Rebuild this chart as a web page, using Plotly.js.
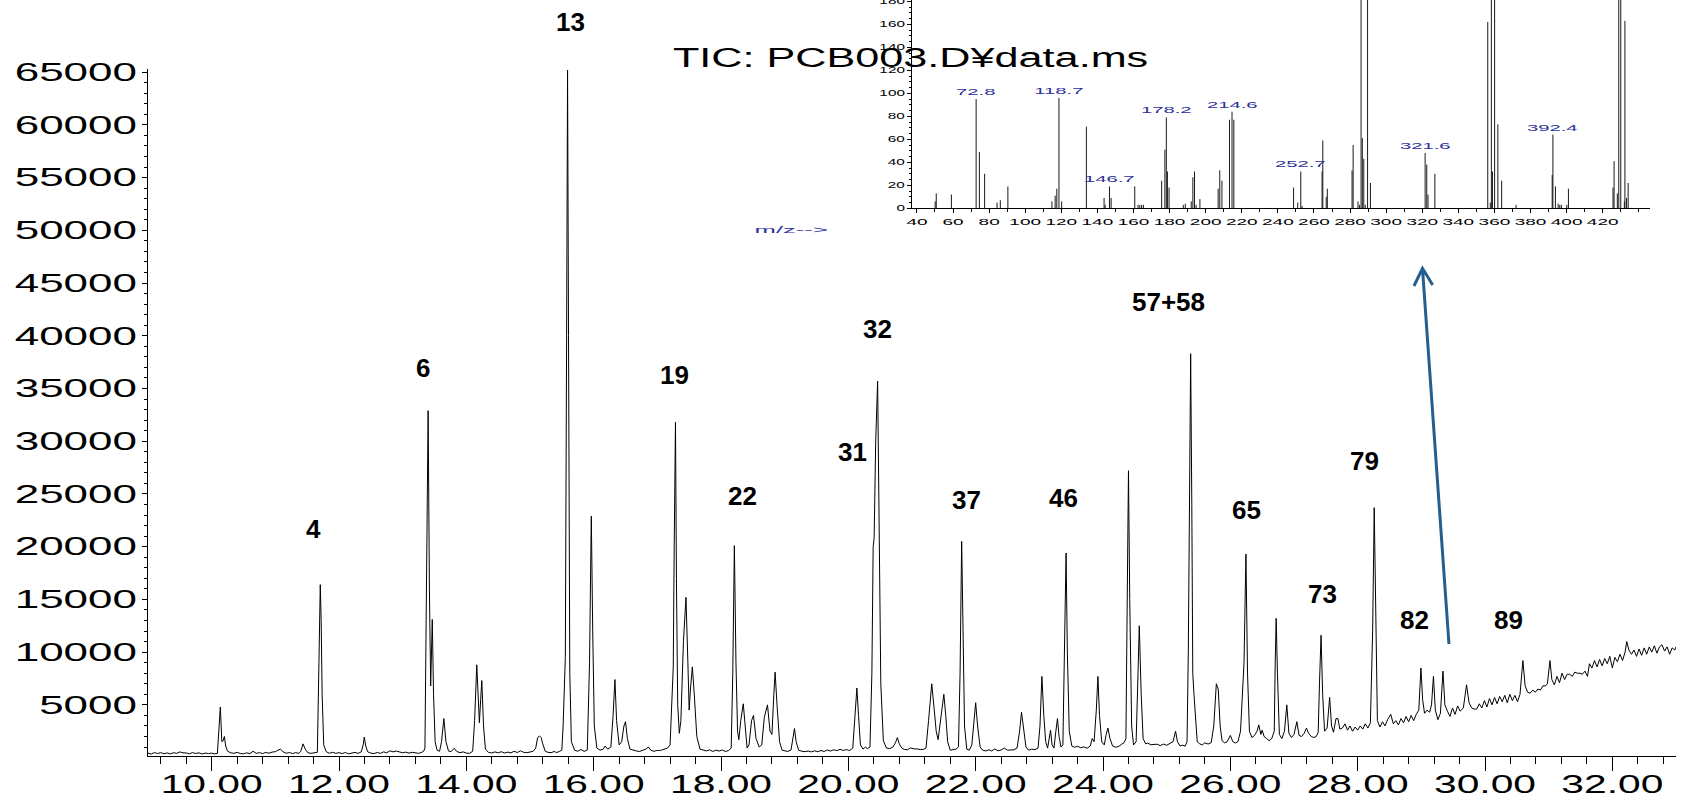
<!DOCTYPE html>
<html><head><meta charset="utf-8">
<script src="https://cdn.plot.ly/plotly-3.0.1.min.js"></script>
<style>html,body{margin:0;padding:0;background:#fff;}#chart{width:1684px;height:802px;}</style>
</head><body><div id="chart"></div>
<script>
// ---- Total ion chromatogram (retention time, min / abundance) ----
const ticTime = [
9.00,9.05,9.10,9.15,9.20,9.25,9.30,9.35,9.40,9.45,9.50,9.55,9.60,9.65,9.70,9.75,9.80,9.85,9.90,9.95,10.00,10.05,
10.09,10.11,10.136,10.16,10.18,10.20,10.22,10.25,10.30,10.35,10.40,10.45,10.50,10.55,10.60,10.65,10.70,10.75,10.80,10.85,10.90,10.95,
11.00,11.04,11.08,11.12,11.17,11.22,11.27,11.32,11.37,11.40,11.435,11.47,11.51,11.56,11.62,11.66,
11.685,11.706,11.72,11.735,11.76,11.80,11.85,11.90,11.95,12.00,12.05,12.10,12.15,12.20,12.25,12.30,12.35,
12.38,12.397,12.42,12.45,12.50,12.55,12.60,12.65,12.70,12.75,12.80,12.85,12.90,12.95,13.00,13.05,13.10,13.15,13.20,13.25,13.30,13.33,
13.35,13.375,13.40,13.42,13.44,13.465,13.485,13.51,13.54,13.58,13.61,13.647,13.68,13.72,13.76,13.81,13.85,13.90,13.95,14.00,14.05,14.10,
14.13,14.164,14.19,14.205,14.225,14.243,14.27,14.30,14.35,14.40,14.45,14.50,14.55,14.60,14.65,14.70,14.75,14.80,14.85,14.90,14.95,15.00,15.05,
15.09,15.12,15.15,15.175,15.20,15.24,15.28,15.33,15.38,15.42,15.46,15.50,15.52,15.54,15.555,15.575,15.59,15.605,15.625,15.65,15.70,15.75,15.80,15.85,15.90,
15.935,15.963,15.985,16.01,16.05,16.10,16.15,16.18,16.22,16.27,16.305,16.334,16.36,16.40,16.44,16.475,16.50,16.53,16.57,16.62,16.67,16.72,16.77,16.82,16.86,16.90,16.95,17.00,17.05,17.10,17.16,17.20,
17.225,17.25,17.265,17.285,17.30,17.32,17.345,17.37,17.41,17.45,17.48,17.50,17.52,17.55,17.58,17.62,17.67,17.72,17.77,17.82,17.87,17.92,17.97,18.02,18.07,18.12,18.16,
18.185,18.21,18.235,18.26,18.28,18.31,18.35,18.38,18.41,18.44,18.48,18.51,18.55,18.60,18.64,18.68,18.73,18.77,18.80,18.83,18.85,18.88,18.92,18.96,19.00,19.05,19.10,19.13,19.154,19.18,19.22,19.27,19.32,19.37,19.42,19.47,19.52,19.57,19.62,19.67,19.72,19.77,19.82,19.87,19.92,19.97,20.02,20.07,
20.10,20.134,20.16,20.19,20.23,20.27,20.30,20.34,20.37,20.39,20.405,20.43,20.46,20.48,20.51,20.55,20.60,20.65,20.70,20.74,20.77,20.80,20.84,20.88,20.93,20.98,21.03,21.08,21.13,21.18,21.22,
21.26,21.31,21.35,21.38,21.41,21.44,21.50,21.53,21.56,21.60,21.64,21.69,21.73,21.755,21.78,21.80,21.825,21.86,21.90,21.94,21.97,22.00,22.03,22.07,22.11,22.16,22.21,22.25,22.30,22.35,22.40,22.45,22.50,22.55,22.60,22.65,
22.69,22.72,22.75,22.79,22.83,22.88,22.93,22.98,23.01,23.04,23.07,23.10,23.13,23.16,23.176,23.20,23.23,23.26,23.285,23.31,23.34,23.37,23.395,23.42,23.44,23.47,23.51,23.55,23.60,23.65,23.70,23.75,23.80,23.83,23.86,23.895,23.92,23.945,23.98,24.02,24.05,24.077,24.11,24.15,24.20,24.25,24.30,24.33,24.36,
24.38,24.40,24.42,24.45,24.48,24.52,24.55,24.57,24.60,24.63,24.67,24.70,24.75,24.80,24.85,24.90,24.95,25.00,25.05,25.10,25.14,25.17,25.21,25.25,25.29,25.32,
25.34,25.355,25.377,25.395,25.41,25.43,25.46,25.48,25.52,25.56,25.60,25.65,25.70,25.74,25.78,25.81,25.84,25.87,25.91,25.95,26.00,26.04,26.08,26.12,26.16,
26.19,26.215,26.245,26.27,26.30,26.34,26.38,26.42,26.447,26.48,26.50,26.53,26.57,26.61,26.65,26.69,26.705,26.72,26.74,26.77,26.81,26.85,26.887,26.92,26.96,27.00,27.045,27.08,27.12,27.16,27.196,27.23,27.27,27.31,27.35,27.38,27.40,27.425,27.45,27.48,27.52,27.56,27.59,27.62,27.66,27.69,27.72,27.76,27.80,27.84,27.88,27.92,27.96,28.00,28.04,28.08,28.12,28.16,28.20,
28.235,28.26,28.285,28.31,28.35,28.39,28.43,28.47,28.52,28.56,28.60,28.64,28.68,28.72,28.76,28.80,28.84,28.88,28.92,28.96,
28.994,29.02,29.05,29.09,29.13,29.16,29.19,29.22,29.26,29.30,29.34,29.37,29.41,29.45,29.49,29.53,29.57,29.61,29.66,29.71,
29.75,29.79,29.83,29.87,29.91,29.95,29.99,30.03,30.07,30.11,30.15,30.19,30.23,30.27,30.31,30.35,30.39,30.43,30.47,30.51,
30.55,30.595,30.63,30.67,30.71,30.75,30.79,30.83,30.87,30.91,30.95,30.98,31.02,31.05,31.09,31.13,31.17,31.21,31.25,31.29,
31.33,31.37,31.41,31.45,31.49,31.53,31.57,31.61,31.64,31.68,31.72,31.76,31.80,31.84,31.88,31.92,31.96,32.00,32.04,32.08,
32.12,32.16,32.20,32.226,32.26,32.30,32.34,32.38,32.42,32.46,32.50,32.54,32.58,32.62,32.66,32.70,32.74,32.78,32.82,32.86,
32.90,32.94,32.98,33.00
];
const ticAbund = [
420,330,480,380,470,360,440,350,460,400,540,450,440,360,470,390,450,340,430,380,420,350,
400,2600,4800,1500,1600,2000,1100,600,450,400,500,380,360,450,370,600,400,470,380,490,410,520,
560,700,800,560,410,480,380,470,400,600,1300,800,460,400,460,500,
9000,16400,13000,6000,1200,550,410,500,400,470,380,480,360,450,490,400,540,
1200,1950,1100,550,420,380,480,400,540,460,640,540,620,500,450,520,420,500,430,400,500,600,
900,15000,32900,16000,6800,13100,6000,1500,700,600,1500,3700,1500,620,560,880,580,460,540,430,400,600,
3500,8800,5000,3300,5500,7300,3000,800,480,440,540,450,560,430,520,440,600,480,640,500,460,560,600,
900,1900,2050,1900,1300,600,500,460,580,480,580,700,3000,8600,9500,40000,65200,40000,8000,1500,700,600,770,580,720,
9000,22900,12000,3000,900,700,800,1100,800,1000,4000,7400,3500,1200,1500,3000,3400,1800,800,680,630,580,700,800,1000,680,600,680,680,770,900,1200,
5000,8600,20000,31800,17000,5000,2300,3500,11000,15200,9000,4500,6500,8600,6000,2000,800,680,630,740,580,700,620,720,580,670,900,
8000,20100,9000,2500,1700,3500,5100,2500,900,1200,3500,4000,1800,1000,1200,3800,5000,2500,2200,6000,8100,5000,1500,700,630,580,720,1800,2750,1500,700,600,560,620,540,640,560,670,580,720,620,740,660,780,680,760,660,900,
3500,6600,4000,1200,800,1000,850,1000,8000,20000,20800,30000,35700,24000,7000,1600,900,850,1000,1400,1900,1300,900,780,740,920,830,820,760,780,900,
3500,7000,4500,2500,1700,3000,6000,4000,1500,700,750,800,1000,8000,20500,12000,3000,800,700,1200,3500,5200,3000,1000,700,630,740,630,820,640,720,900,700,700,740,900,
2500,4300,2800,1000,700,800,750,900,3000,7700,4000,1500,900,2000,2600,1200,900,2500,3700,2000,1000,1200,9000,19400,10000,2500,1100,980,1070,930,1020,880,1100,1800,1500,4500,7700,4000,1500,1200,2200,2800,1800,1100,980,1070,1300,1400,1800,
12000,27200,15000,3000,1200,1500,8000,12500,6000,1800,1300,1380,1220,1230,1270,1130,1280,1170,1330,1500,2500,1500,1100,1180,1080,1500,
10000,24000,38300,24000,8000,5900,3500,1500,1300,1200,1400,1280,1420,3000,7000,6500,3000,1600,1400,1500,2100,1500,1380,1520,2500,
6200,9000,19300,8000,2500,1900,2100,2500,3100,2200,2600,2000,1800,1600,1800,2500,9000,13200,8000,2200,1800,2500,5000,2300,1900,2200,3400,2100,2000,2300,2800,2300,2000,1900,2000,2400,7000,11600,6000,2500,2800,5700,3000,2400,3700,3700,2700,2800,3200,2600,3000,2500,2900,2600,3000,2700,3200,2800,3300,
12000,23700,11000,3500,2900,3400,3000,3600,4100,3200,3500,3100,3700,3300,3900,3400,4000,3500,4100,4500,
8500,5500,4200,4500,4300,5000,7700,4500,3600,4200,8200,5000,4400,3900,4700,4100,4900,4400,4700,6900,
5200,4700,4600,4600,5100,4700,5400,4800,5600,5000,5700,5100,5800,5300,5900,5200,6000,5400,5900,5300,
6000,9200,6800,6200,6100,6400,6200,6500,6400,6800,6800,7000,9200,7400,6900,7700,7100,8000,7400,7900,
7900,7700,8100,8000,8000,7900,8200,7700,8900,8500,9200,8600,9300,8700,9400,8900,9600,8500,9500,9100,
9800,9200,10000,11000,10200,9800,10200,9600,10300,9700,10400,9800,10500,10000,10600,9900,10500,10700,10100,10500,
9800,10400,10200,10500
];

// ---- Mass spectrum of the peak at ~29.4 min (m/z / relative abundance) ----
const msMz = [50.1,50.7,59.1,72.8,74.6,77.5,84.4,86.2,90.4,114.8,116.6,117.5,118.7,120.2,133.9,143.7,144.3,146.7,147.6,160.7,
162.5,163.5,164.5,165.5,175.6,177.4,178.2,178.8,179.7,187.6,188.7,192.0,192.9,193.8,194.7,196.8,206.9,207.8,209.0,213.2,
214.6,215.6,248.7,251.0,252.7,253.4,264.5,264.9,266.8,267.4,281.1,281.7,284.4,285.3,286.1,286.8,287.6,288.4,289.7,291.3,
321.6,322.5,323.2,327.0,356.3,357.7,358.3,358.9,360.1,361.9,364.0,372.0,392.0,392.4,393.8,395.3,396.2,397.1,400.1,401.0,
425.7,426.3,428.1,428.9,430.0,432.0,432.3,433.2,434.1];
const msAbund = [6,13,12,95,49,30,5,7,19,6,11,17,96,6,71,9,3,19,9,19,
3,3,3,3,24,51,79,32,18,3,4,6,27,32,3,8,17,33,24,77,
84,77,18,5,32,2,32,59,10,17,33,55,6,3,240,61,43,3,280,22,
48,38,12,30,162,5,320,32,290,73,24,3,29,64,19,4,3,3,3,17,
18,41,13,360,330,6,163,9,22];
const msLabelMz = [72.8,118.7,146.7,178.2,214.6,252.7,321.6,392.4];
const msTickLabels = [40,60,80,100,120,140,160,180,200,220,240,260,280,300,320,340,360,380,400,420];

// ---- texts ----
const peakLabels = ['4','6','13','19','22','31','32','37','46','57+58','65','73','79','82','89'];
const chartTitle = 'TIC: PCB003.D\u00A5data.ms';
const mzAxisLabel = 'm/z-->';

// ================= layout =================
const W = 1684, H = 802, ML = 148, MR = 8, MT = 0, MB = 46;
const pw = W - ML - MR, ph = H - MT - MB;
const pxX = px => (px - ML) / pw;
const pxY = py => (H - MB - py) / ph;

const FONT = 'Liberation Sans, Arial, sans-serif';

const stickX = [], stickY = [];
msMz.forEach((m, i) => { stickX.push(m, m, null); stickY.push(0, msAbund[i], null); });

const traces = [
  {type: 'scatter', mode: 'lines', x: ticTime, y: ticAbund, xaxis: 'x', yaxis: 'y',
   line: {color: '#000', width: 1}, hoverinfo: 'skip'},
  {type: 'scatter', mode: 'lines', x: stickX, y: stickY, xaxis: 'x2', yaxis: 'y2',
   line: {color: '#1a1a1a', width: 1}, hoverinfo: 'skip', connectgaps: false}
];

const annotations = [];
const annStretch = [];
function addAnn(a, s) { annotations.push(a); annStretch.push(s); }

addAnn({text: chartTitle, xref: 'paper', yref: 'paper', x: pxX(910), y: pxY(58),
  xanchor: 'center', yanchor: 'middle', showarrow: false,
  font: {family: FONT, size: 27, color: '#000'}}, 1.6);
addAnn({text: mzAxisLabel, xref: 'paper', yref: 'paper', x: pxX(792), y: pxY(229),
  xanchor: 'center', yanchor: 'middle', showarrow: false,
  font: {family: FONT, size: 9.5, color: '#2b2f9a'}}, 2.7);

msLabelMz.forEach(m => {
  const idx = msMz.indexOf(m);
  addAnn({text: m.toFixed(1), xref: 'x2', yref: 'y2', x: m, y: msAbund[idx],
    xanchor: 'center', yanchor: 'bottom', showarrow: false,
    font: {family: FONT, size: 9, color: '#2b2f9a'}}, 2.25);
});

const peakLabelPx = [[313,529],[423,368],[570,21.7],[674.6,375],[742.4,496],[852.6,451.7],[877.5,329],
  [966.6,500],[1063,497.7],[1168,301.7],[1246.4,510],[1322,594.3],[1364,461],[1414.5,620],[1508,620]];
peakLabels.forEach((t, i) => {
  addAnn({text: '<b>' + t + '</b>', xref: 'paper', yref: 'paper',
    x: pxX(peakLabelPx[i][0]), y: pxY(peakLabelPx[i][1]),
    xanchor: 'center', yanchor: 'middle', showarrow: false,
    font: {family: FONT, size: 26, color: '#000'}}, 1.0);
});

const layout = {
  width: W, height: H,
  margin: {l: ML, r: MR, t: MT, b: MB, pad: 0},
  paper_bgcolor: '#fff', plot_bgcolor: 'rgba(0,0,0,0)',
  showlegend: false, hovermode: false,
  xaxis: {domain: [0, 1], anchor: 'y', range: [9.0, 33.0], tick0: 0, dtick: 2, tickformat: '.2f',
    showline: true, linecolor: '#000', linewidth: 1, mirror: false,
    ticks: 'outside', ticklen: 14, tickwidth: 1, tickcolor: '#000',
    minor: {dtick: 0.4, tick0: 0, ticks: 'outside', ticklen: 7, tickwidth: 1, tickcolor: '#000', showgrid: false},
    showgrid: false, zeroline: false, tickangle: 0, ticklabeloverflow: 'allow',
    tickfont: {family: FONT, size: 25, color: '#000'}},
  yaxis: {domain: [0, (756 - 69) / ph], anchor: 'x', range: [150, 65300], tick0: 0, dtick: 5000, tickformat: 'd',
    showline: true, linecolor: '#000', linewidth: 1,
    ticks: 'outside', ticklen: 5, tickwidth: 1, tickcolor: '#000',
    minor: {dtick: 1000, tick0: 0, ticks: 'outside', ticklen: 3, tickwidth: 1, tickcolor: '#000', showgrid: false},
    showgrid: false, zeroline: false,
    tickfont: {family: FONT, size: 25, color: '#000'}},
  xaxis2: {domain: [pxX(911.7), pxX(1650)], anchor: 'y2', range: [37.1, 446.2],
    tickmode: 'array', tickvals: msTickLabels, ticktext: msTickLabels.map(String),
    showline: true, linecolor: '#000', linewidth: 1,
    ticks: 'outside', ticklen: 4, tickwidth: 1, tickcolor: '#000',
    minor: {dtick: 10, tick0: 0, ticks: 'outside', ticklen: 3, tickwidth: 1, tickcolor: '#000', showgrid: false},
    showgrid: false, zeroline: false, tickangle: 0,
    tickfont: {family: FONT, size: 9.5, color: '#000'}},
  yaxis2: {domain: [pxY(208.3), 1], anchor: 'x2', range: [0, 181.1], tick0: 0, dtick: 20,
    showline: true, linecolor: '#000', linewidth: 1,
    ticks: 'outside', ticklen: 4, tickwidth: 1, tickcolor: '#000',
    minor: {dtick: 5, tick0: 0, ticks: 'outside', ticklen: 2, tickwidth: 1, tickcolor: '#000', showgrid: false},
    showgrid: false, zeroline: false, ticklabeloverflow: 'allow',
    tickfont: {family: FONT, size: 9, color: '#000'}},
  annotations: annotations,
  shapes: [
    {type: 'path', xref: 'x', yref: 'y', layer: 'above',
     path: 'M 29.434,10771 L 29.018,46399 M 28.884,44720 L 29.018,46399 L 29.178,44815',
     line: {color: '#245f8f', width: 3}}
  ]
};

function stretchText(el, s, anchor, dy) {
  const bb = el.getBBox();
  const ax = anchor === 'end' ? bb.x + bb.width : (anchor === 'start' ? bb.x : bb.x + bb.width / 2);
  const t = el.getAttribute('transform') || '';
  el.setAttribute('transform', (t + ' translate(' + ax + ',' + (dy || 0) + ') scale(' + s + ',1) translate(' + (-ax) + ',0)').trim());
}

Plotly.newPlot('chart', traces, layout, {staticPlot: true, displayModeBar: false}).then(gd => {
  gd.querySelectorAll('g.ytick text').forEach(el => stretchText(el, 1.76, 'end', 0));
  gd.querySelectorAll('g.xtick text').forEach(el => stretchText(el, 1.63, 'middle', -8));
  gd.querySelectorAll('g.y2tick text').forEach(el => stretchText(el, 1.7, 'end', 0));
  gd.querySelectorAll('g.x2tick text').forEach(el => stretchText(el, 2.0, 'middle', 0));
  annStretch.forEach((s, i) => {
    if (s === 1) return;
    gd.querySelectorAll('g.annotation[data-index="' + i + '"] text.annotation-text').forEach(el => stretchText(el, s, 'middle', 0));
  });
});
</script></body></html>
